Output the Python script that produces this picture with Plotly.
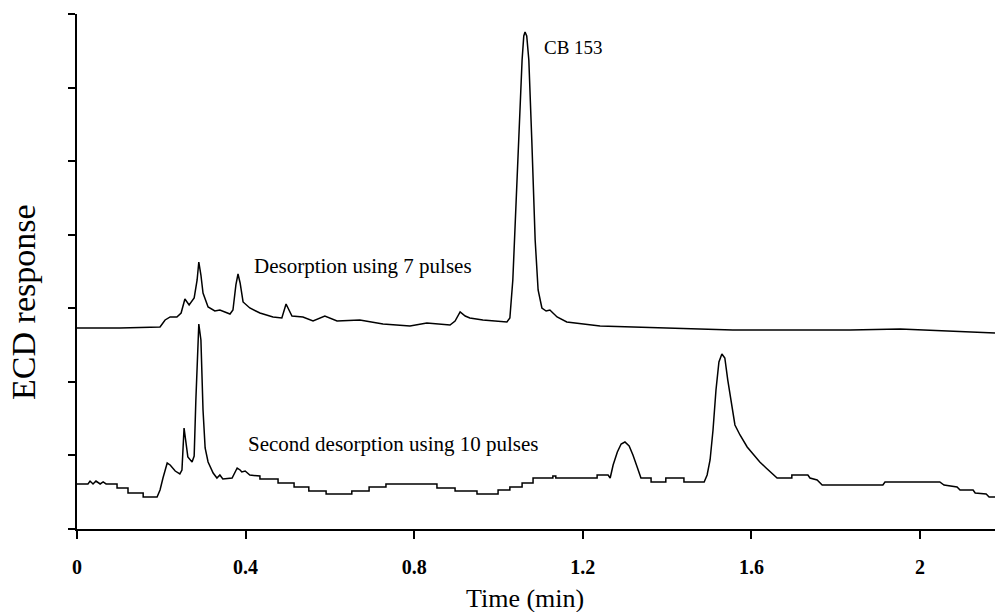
import plotly.graph_objects as go

# Chromatogram after desorption with 7 pulses (time in min, ECD response in arbitrary units)
t_first = [0.000, 0.102, 0.197, 0.209, 0.221, 0.237, 0.247, 0.256, 0.266, 0.278, 0.285,
           0.289, 0.294, 0.299, 0.311, 0.327, 0.339, 0.363, 0.370, 0.377, 0.382, 0.387,
           0.394, 0.410, 0.434, 0.465, 0.486, 0.496, 0.510, 0.536, 0.560, 0.588, 0.617,
           0.671, 0.726, 0.790, 0.830, 0.885, 0.897, 0.909, 0.921, 0.932, 0.963, 1.004,
           1.020, 1.027, 1.034, 1.042, 1.049, 1.056, 1.060, 1.063, 1.067, 1.072, 1.079,
           1.087, 1.094, 1.103, 1.113, 1.122, 1.139, 1.162, 1.241, 1.400, 1.556, 1.715,
           1.834, 1.953, 2.071, 2.178]
r_first = [2.732, 2.732, 2.746, 2.841, 2.882, 2.882, 2.936, 3.126, 3.045, 3.140, 3.385,
           3.629, 3.452, 3.208, 3.018, 2.963, 2.977, 2.922, 2.977, 3.317, 3.466, 3.344,
           3.086, 3.004, 2.936, 2.882, 2.868, 3.058, 2.895, 2.882, 2.827, 2.895, 2.827,
           2.841, 2.786, 2.759, 2.800, 2.773, 2.827, 2.950, 2.895, 2.868, 2.841, 2.827,
           2.814, 2.868, 3.385, 4.472, 5.559, 6.375, 6.701, 6.755, 6.701, 6.375, 5.287,
           3.928, 3.249, 3.004, 2.963, 2.977, 2.882, 2.814, 2.759, 2.732, 2.705, 2.705,
           2.705, 2.718, 2.691, 2.664]

# Second desorption with 10 pulses
t_second = [0.000, 0.026, 0.031, 0.038, 0.045, 0.055, 0.062, 0.069, 0.095, 0.095, 0.121,
            0.121, 0.157, 0.157, 0.190, 0.197, 0.204, 0.214, 0.221, 0.233, 0.244, 0.249,
            0.254, 0.259, 0.263, 0.273, 0.278, 0.282, 0.287, 0.289, 0.294, 0.299, 0.304,
            0.311, 0.323, 0.332, 0.339, 0.346, 0.368, 0.380, 0.387, 0.391, 0.399, 0.410,
            0.434, 0.434, 0.477, 0.477, 0.515, 0.515, 0.550, 0.550, 0.591, 0.591, 0.652,
            0.652, 0.693, 0.693, 0.733, 0.733, 0.854, 0.854, 0.897, 0.897, 0.949, 0.949,
            0.999, 0.999, 1.027, 1.027, 1.056, 1.056, 1.082, 1.082, 1.129, 1.129, 1.136,
            1.136, 1.234, 1.234, 1.260, 1.265, 1.272, 1.282, 1.291, 1.300, 1.310, 1.319,
            1.329, 1.338, 1.362, 1.362, 1.397, 1.397, 1.440, 1.440, 1.488, 1.495, 1.502,
            1.509, 1.516, 1.523, 1.530, 1.537, 1.544, 1.552, 1.561, 1.573, 1.590, 1.606,
            1.620, 1.635, 1.649, 1.661, 1.696, 1.696, 1.734, 1.739, 1.756, 1.768, 1.912,
            1.917, 2.047, 2.057, 2.088, 2.095, 2.126, 2.131, 2.157, 2.164, 2.178]
r_second = [0.612, 0.612, 0.652, 0.612, 0.652, 0.612, 0.639, 0.612, 0.612, 0.557, 0.557,
            0.489, 0.489, 0.435, 0.435, 0.530, 0.693, 0.897, 0.870, 0.788, 0.748, 0.802,
            1.373, 1.142, 0.979, 0.911, 0.992, 1.753, 2.637, 2.786, 2.569, 1.618, 1.101,
            0.911, 0.761, 0.693, 0.734, 0.680, 0.693, 0.829, 0.802, 0.775, 0.788, 0.734,
            0.720, 0.680, 0.680, 0.625, 0.625, 0.571, 0.571, 0.517, 0.517, 0.476, 0.476,
            0.517, 0.517, 0.571, 0.571, 0.612, 0.612, 0.557, 0.557, 0.517, 0.517, 0.476,
            0.476, 0.530, 0.530, 0.571, 0.571, 0.625, 0.625, 0.693, 0.693, 0.720, 0.720,
            0.693, 0.693, 0.734, 0.734, 0.693, 0.870, 1.047, 1.155, 1.183, 1.128, 1.006,
            0.843, 0.693, 0.693, 0.639, 0.639, 0.693, 0.693, 0.639, 0.639, 0.734, 0.938,
            1.346, 1.889, 2.270, 2.379, 2.324, 2.025, 1.753, 1.414, 1.278, 1.115, 1.006,
            0.911, 0.829, 0.748, 0.693, 0.693, 0.734, 0.734, 0.693, 0.666, 0.598, 0.598,
            0.639, 0.639, 0.598, 0.571, 0.530, 0.530, 0.489, 0.476, 0.435, 0.435]

x_ticks = [0, 0.4, 0.8, 1.2, 1.6, 2]
x_tick_text = ["<b>0</b>", "<b>0.4</b>", "<b>0.8</b>", "<b>1.2</b>", "<b>1.6</b>", "<b>2</b>"]
y_ticks = [0, 1, 2, 3, 4, 5, 6, 7]

SERIF = "Liberation Serif, Times New Roman, serif"

fig = go.Figure()
for t, r in [(t_first, r_first), (t_second, r_second)]:
    fig.add_trace(go.Scatter(x=t, y=r, mode="lines",
                             line=dict(color="black", width=1.5),
                             showlegend=False, hoverinfo="skip"))

fig.add_annotation(x=1.103, y=6.55, text="CB 153", xref="x", yref="y",
                   xanchor="left", yanchor="middle", showarrow=False,
                   font=dict(family=SERIF, size=19, color="black"))
fig.add_annotation(x=0.415, y=3.58, text="Desorption using 7 pulses", xref="x", yref="y",
                   xanchor="left", yanchor="middle", showarrow=False,
                   font=dict(family=SERIF, size=21, color="black"))
fig.add_annotation(x=0.401, y=1.15, text="Second desorption using 10 pulses",
                   xref="x", yref="y", xanchor="left", yanchor="middle", showarrow=False,
                   font=dict(family=SERIF, size=21, color="black"))

fig.add_annotation(x=0.488, y=-0.134, text="Time (min)", xref="paper", yref="paper",
                   xanchor="center", yanchor="middle", showarrow=False,
                   font=dict(family=SERIF, size=26, color="black"))
fig.add_annotation(x=-0.0577, y=0.439, text="ECD response", xref="paper", yref="paper",
                   xanchor="center", yanchor="middle", showarrow=False, textangle=-90,
                   font=dict(family=SERIF, size=34, color="black"))

fig.update_xaxes(range=[0, 2.178], tickvals=x_ticks, ticktext=x_tick_text,
                 ticks="outside", ticklen=8, tickwidth=1.5, tickcolor="black",
                 showline=True, linecolor="black", linewidth=1.6,
                 showgrid=False, zeroline=False, ticklabelstandoff=11,
                 tickfont=dict(family=SERIF, size=20, color="black"))
fig.update_yaxes(range=[0, 7], tickvals=y_ticks, showticklabels=False,
                 ticks="outside", ticklen=7, tickwidth=1.5, tickcolor="black",
                 showline=True, linecolor="black", linewidth=1.6,
                 showgrid=False, zeroline=False)

fig.update_layout(width=995, height=612, margin=dict(l=77, r=0, t=14, b=83),
                  plot_bgcolor="white", paper_bgcolor="white",
                  font=dict(family=SERIF, color="black"))

fig.write_html("out.html")
